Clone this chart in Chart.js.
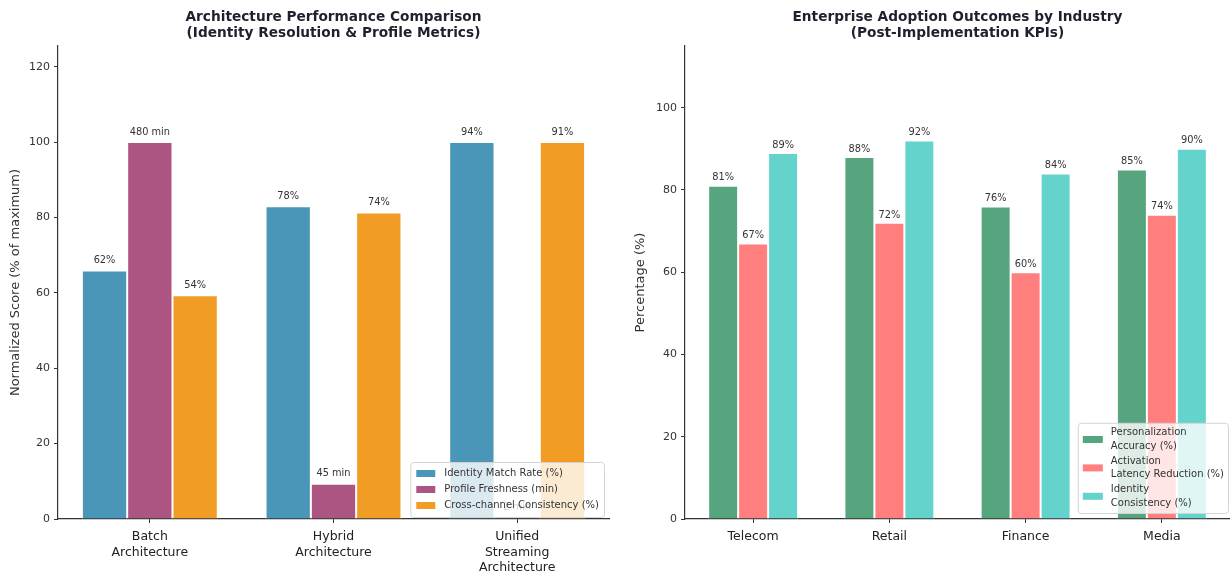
<!DOCTYPE html>
<html>
<head>
<meta charset="utf-8">
<title>Architecture & Adoption KPIs</title>
<script src="https://cdn.jsdelivr.net/npm/chart.js@4.4.1/dist/chart.umd.min.js"></script>
<style>
  html, body { margin: 0; padding: 0; background: #fff; }
  #wrap { position: relative; width: 1230px; height: 573px; overflow: hidden; }
  canvas { position: absolute; top: 0; }
  #archChart { left: 0; }
  #industryChart { left: 620px; }
</style>
</head>
<body>
<div id="wrap">
  <canvas id="archChart" width="620" height="573"></canvas>
  <canvas id="industryChart" width="610" height="573"></canvas>
</div>
<script>
// ---- data: architecture comparison ----
const archCategories = [['Batch', 'Architecture'], ['Hybrid', 'Architecture'], ['Unified', 'Streaming', 'Architecture']];
const archSeries = ['Identity Match Rate (%)', 'Profile Freshness (min)', 'Cross-channel Consistency (%)'];
const matchRate = [62, 78, 94];
const freshnessMin = [480, 45, 2];
const channelConsistency = [54, 74, 91];

// ---- data: industry outcomes ----
const industries = ['Telecom', 'Retail', 'Finance', 'Media'];
const industrySeries = [['Personalization', 'Accuracy (%)'], ['Activation', 'Latency Reduction (%)'], ['Identity', 'Consistency (%)']];
const personalization = [81, 88, 76, 85];
const latencyReduction = [67, 72, 60, 74];
const identityConsistency = [89, 92, 84, 90];

const FONT = "'DejaVu Sans', sans-serif";
Chart.defaults.font.family = FONT;
Chart.defaults.animation = false;

// scale each series to its own maximum (= 100)
function normalize(values) {
  const max = Math.max(...values);
  return values.map(v => v / max * 100);
}

// two-line bold title centred over the plot area
const axesTitle = {
  id: 'axesTitle',
  afterDraw(chart, args, opts) {
    const ctx = chart.ctx, a = chart.chartArea;
    ctx.save();
    ctx.font = 'bold 13.7px ' + FONT;
    ctx.fillStyle = '#1f1f2e';
    ctx.textAlign = 'center';
    ctx.textBaseline = 'middle';
    opts.lines.forEach((t, i) => ctx.fillText(t, (a.left + a.right) / 2, opts.top + i * 16.5));
    ctx.restore();
  }
};

// value text above each bar
const barValues = {
  id: 'barValues',
  afterDatasetsDraw(chart, args, opts) {
    const ctx = chart.ctx;
    ctx.save();
    ctx.font = '9.8px ' + FONT;
    ctx.fillStyle = '#333';
    ctx.textAlign = 'center';
    ctx.textBaseline = 'bottom';
    chart.data.datasets.forEach((ds, i) => {
      chart.getDatasetMeta(i).data.forEach((bar, j) => {
        ctx.fillText(ds.valueText[j], bar.x, bar.y - opts.gap);
      });
    });
    ctx.restore();
  }
};

// framed legend in the lower right corner, semi-transparent over the bars
const boxLegend = {
  id: 'boxLegend',
  afterDraw(chart, args, o) {
    const ctx = chart.ctx, a = chart.chartArea;
    ctx.save();
    ctx.font = '10px ' + FONT;
    const items = chart.data.datasets.map(ds => ({ color: ds.backgroundColor, lines: ds.legendLines }));
    let tw = 0;
    items.forEach(it => it.lines.forEach(l => { tw = Math.max(tw, ctx.measureText(l).width); }));
    const w = o.padL + o.patchW + o.gap + tw + o.padR;
    const h = o.padV * 2 + o.rowH * items.length;
    const x = a.right - o.right - w;
    const y = a.bottom - o.bottom - h;
    ctx.beginPath();
    ctx.roundRect(x + 0.5, y + 0.5, w, h, 3);
    ctx.fillStyle = 'rgba(255,255,255,0.8)';
    ctx.fill();
    ctx.strokeStyle = '#d4d4d4';
    ctx.lineWidth = 1;
    ctx.stroke();
    ctx.textBaseline = 'middle';
    ctx.textAlign = 'left';
    items.forEach((it, i) => {
      const cy = y + o.padV + o.rowH * (i + 0.5);
      ctx.fillStyle = it.color;
      ctx.fillRect(x + o.padL, cy - o.patchH / 2, o.patchW, o.patchH);
      ctx.fillStyle = '#333';
      const n = it.lines.length;
      it.lines.forEach((l, k) => {
        ctx.fillText(l, x + o.padL + o.patchW + o.gap, cy + (k - (n - 1) / 2) * o.lineH);
      });
    });
    ctx.restore();
  }
};

function axisStyle(extra) {
  return Object.assign({
    grid: { display: true, drawOnChartArea: false, drawTicks: true, tickLength: 4, color: '#333', lineWidth: 1, offset: false },
    border: { display: true, color: '#333', width: 1.2 },
    ticks: { color: '#333', font: { size: 11 }, padding: 3 }
  }, extra);
}

function barSet(label, lines, color, values, texts) {
  return {
    label: label,
    legendLines: lines,
    data: values,
    valueText: texts,
    backgroundColor: color,
    borderColor: '#ffffff',
    borderWidth: 1,
    borderSkipped: 'start'
  };
}

const categoryTicks = { color: '#222', font: { size: 12.5, lineHeight: 1.25 }, padding: 6, maxRotation: 0, autoSkip: false };

const archColors = ['#4A96B8', '#AC5482', '#F19C24'];

new Chart(document.getElementById('archChart'), {
  type: 'bar',
  data: {
    labels: archCategories,
    datasets: [
      barSet(archSeries[0], [archSeries[0]], archColors[0], normalize(matchRate), matchRate.map(v => v + '%')),
      barSet(archSeries[1], [archSeries[1]], archColors[1], normalize(freshnessMin), freshnessMin.map(v => v + ' min')),
      barSet(archSeries[2], [archSeries[2]], archColors[2], normalize(channelConsistency), channelConsistency.map(v => v + '%'))
    ]
  },
  options: {
    responsive: false,
    layout: { padding: { top: 46, right: 11, left: 0, bottom: 0 } },
    datasets: { bar: { categoryPercentage: 0.74, barPercentage: 1 } },
    plugins: {
      legend: { display: false },
      tooltip: { enabled: false },
      axesTitle: { lines: ['Architecture Performance Comparison', '(Identity Resolution & Profile Metrics)'], top: 17 },
      barValues: { gap: 5 },
      boxLegend: { right: 5, bottom: 2, padL: 6, patchW: 19, patchH: 7, gap: 9, padR: 5, padV: 3.5, rowH: 16, lineH: 12 }
    },
    scales: {
      x: axisStyle({
        offset: true,
        ticks: categoryTicks,
        afterFit: s => { s.height = 54; }
      }),
      y: axisStyle({
        min: 0,
        max: 125.5,
        ticks: { color: '#333', font: { size: 11 }, padding: 4, stepSize: 20, includeBounds: false },
        title: { display: true, text: 'Normalized Score (% of maximum)', color: '#333', font: { size: 13 }, padding: { top: 8, bottom: 0 } },
        afterFit: s => { s.width = 58; }
      })
    }
  },
  plugins: [axesTitle, barValues, boxLegend]
});

const industryColors = ['#56A57F', '#FF7F7F', '#63D3CC'];

new Chart(document.getElementById('industryChart'), {
  type: 'bar',
  data: {
    labels: industries,
    datasets: [
      barSet(industrySeries[0].join(' '), industrySeries[0], industryColors[0], personalization, personalization.map(v => v + '%')),
      barSet(industrySeries[1].join(' '), industrySeries[1], industryColors[1], latencyReduction, latencyReduction.map(v => v + '%')),
      barSet(industrySeries[2].join(' '), industrySeries[2], industryColors[2], identityConsistency, identityConsistency.map(v => v + '%'))
    ]
  },
  options: {
    responsive: false,
    layout: { padding: { top: 46, right: 0, left: 0, bottom: 0 } },
    datasets: { bar: { categoryPercentage: 0.66, barPercentage: 1 } },
    plugins: {
      legend: { display: false },
      tooltip: { enabled: false },
      axesTitle: { lines: ['Enterprise Adoption Outcomes by Industry', '(Post-Implementation KPIs)'], top: 17 },
      barValues: { gap: 3 },
      boxLegend: { right: 2, bottom: 6, padL: 5, patchW: 20, patchH: 7, gap: 8, padR: 4, padV: 2.5, rowH: 28.4, lineH: 13.4 }
    },
    scales: {
      x: axisStyle({
        offset: true,
        ticks: categoryTicks,
        afterFit: s => { s.height = 54; }
      }),
      y: axisStyle({
        min: 0,
        max: 115,
        ticks: { color: '#333', font: { size: 11 }, padding: 4, stepSize: 20, includeBounds: false },
        title: { display: true, text: 'Percentage (%)', color: '#333', font: { size: 13 }, padding: { top: 13, bottom: 0 } },
        afterFit: s => { s.width = 65; }
      })
    }
  },
  plugins: [axesTitle, barValues, boxLegend]
});
</script>
</body>
</html>
